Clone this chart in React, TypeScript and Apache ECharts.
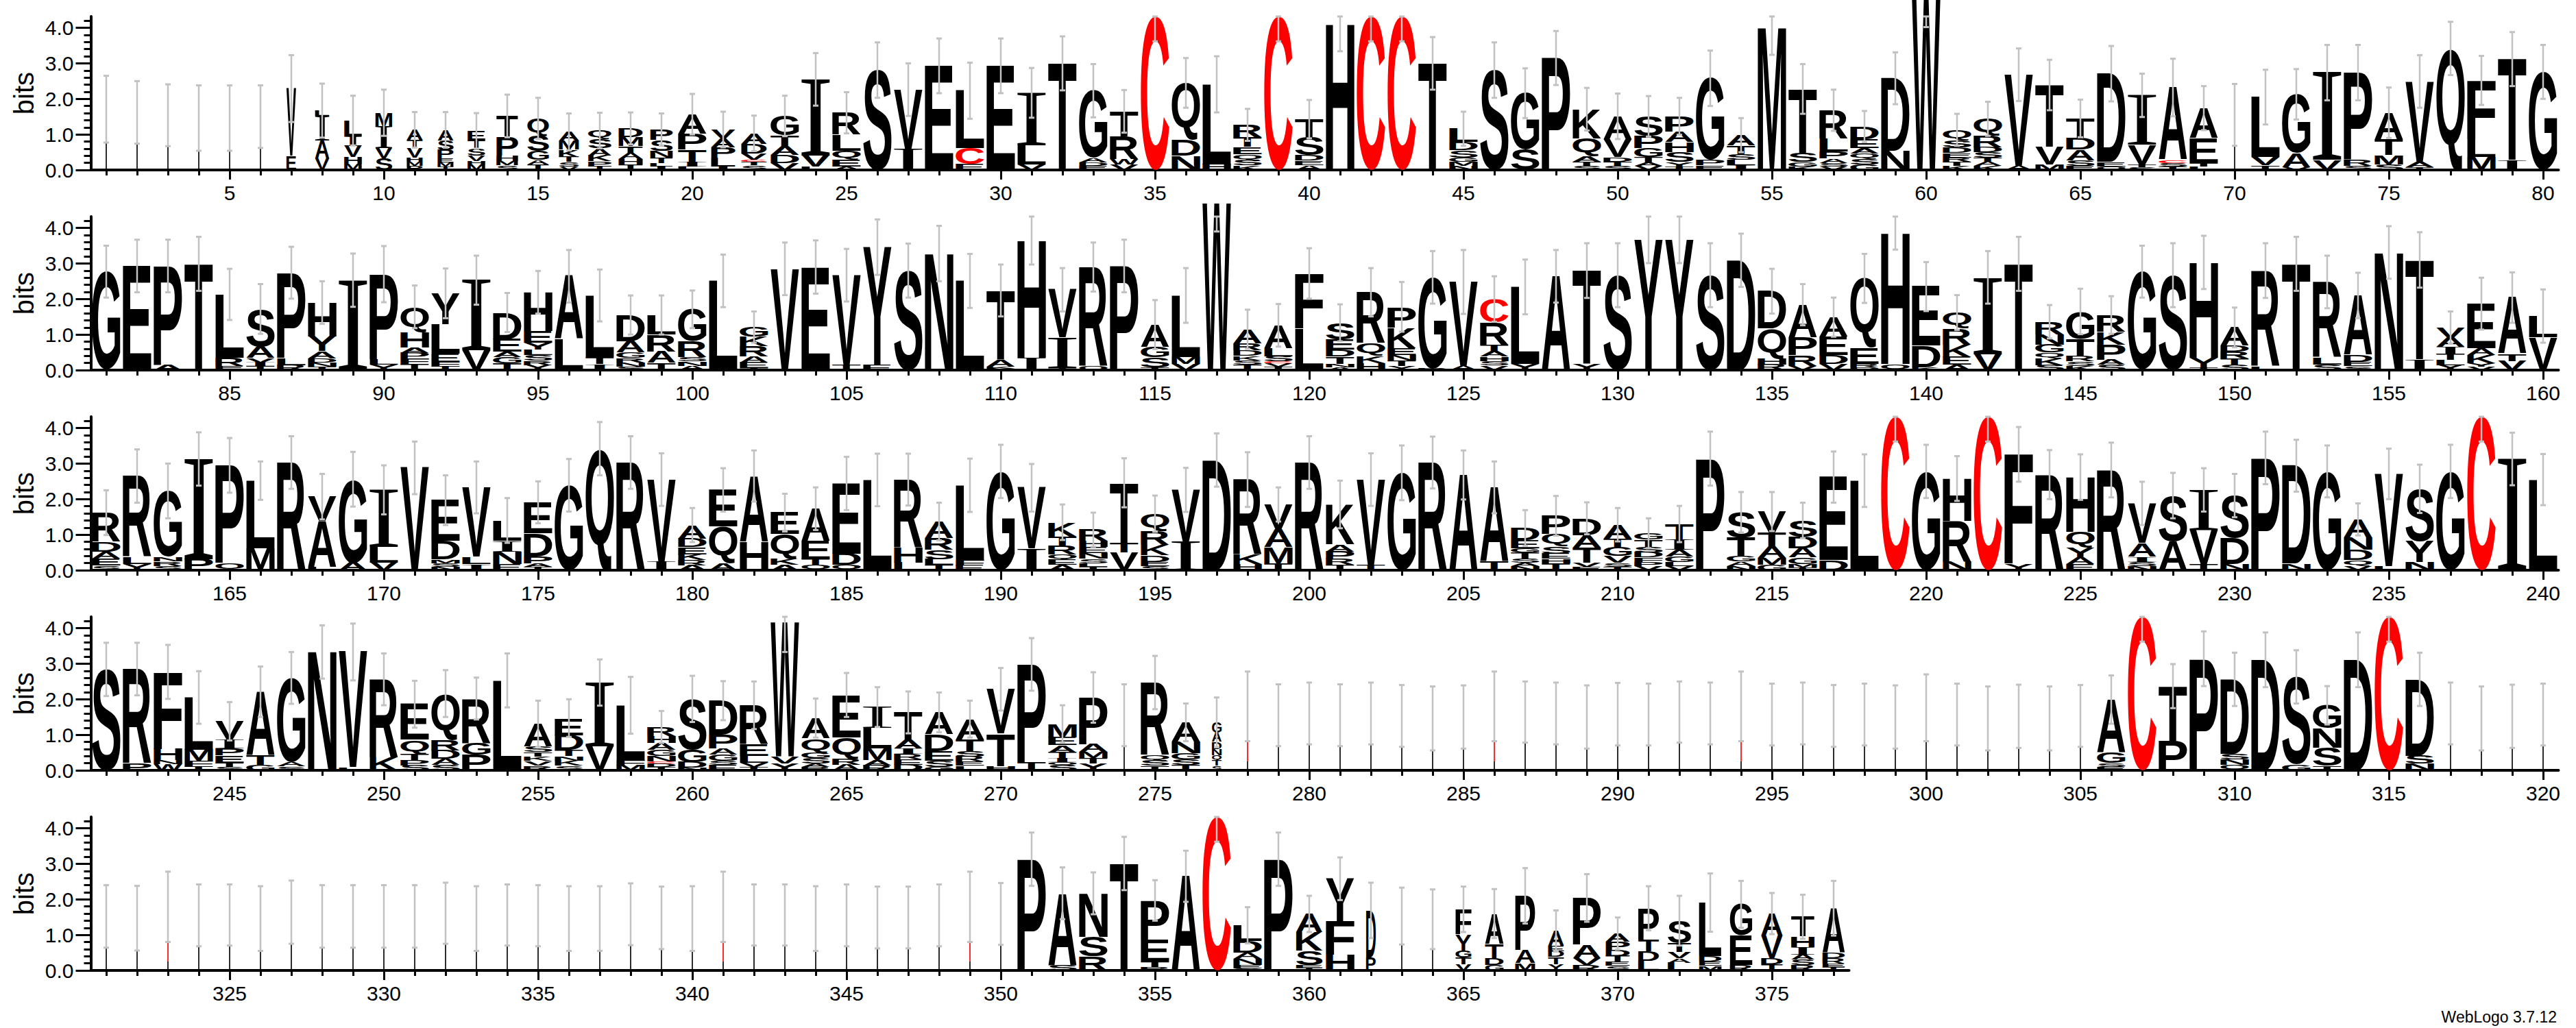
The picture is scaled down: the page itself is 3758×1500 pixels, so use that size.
import React, { useEffect, useRef } from "react";
import * as echarts from "echarts";

// ---------------- data ----------------
// Each entry = one position. Letter tokens list the stack from top to bottom with their height in bits.
// "w" = relative stack width (fraction of non-gap sequences), "e" = error-bar half width (bits),
// "c" = error-bar centre when it differs from the stack height.
const ROW_START = [1, 81, 161, 241, 321];
const ROW_LEN = [80, 80, 80, 80, 57];
const Y_MAX = 4.32;
const Y_MAJOR = [0, 1, 2, 3, 4];
const Y_MINOR = [0.2, 0.4, 0.6, 0.8, 1.2, 1.4, 1.6, 1.8, 2.2, 2.4, 2.6, 2.8, 3.2, 3.4, 3.6, 3.8, 4.2];

const row1 = [
  "X1.71 w.04 e.94", "X1.62 w.04 e.88", "X1.54 w.04 e.87", "X1.46 w.04 e.92", "X1.46 w.04 e.92",
  "X1.5 w.04 e.88", "V1.9 E.39 w.34 e.94", "L.15 I.7 A.5 V.32 w.5 e.76", "L.45 I.26 V.32 H.19 M.17 w.62 e.7", "M.39 I.61 V.29 S.32 w.59 e.65",
  "A.29 T.23 V.26 H.12 M.12 P.11 w.56 e.5", "A.3 S.27 P.24 E.11 M.11 T.1 w.56 e.5", "E.25 T.25 S.2 V.15 H.1 M.15 w.62 e.5", "T.6 P.52 H.14 M.13 S.13 w.76 e.6", "Q.5 S.42 G.25 A.13 T.15 w.76 e.58",
  "A.25 M.25 K.2 T.15 S.12 V.1 w.7 e.52", "Q.25 S.25 A.2 K.17 P.12 T.12 w.82 e.5", "D.25 M.25 T.2 A.17 H.15 T.15 w.85 e.45", "P.3 S.3 N.2 T.15 L.1 I.09 w.79 e.45", "A.55 P.45 T.35 I.12 L.1 e.57",
  "V.25 A.25 P.3 L.25 I.09 w.85 e.5", "A.3 D.27 V.18 C.05 T.1 S.13 w.9 e.5", "G.55 T.3 A.25 D.22 V.2 e.57", "I2.14 V.32 L.09 e.74", "R.62 L.45 Q.25 E.2 A.09 e.58",
  "S2.81 e.78", "V1.68 I.58 e.74", "E2.93 e.77", "L1.62 C.45 E.16 e.79", "E2.93 e.77",
  "I1.47 L.55 V.15 e.7", "T3 e.76", "G1.9 A.12 D.1 E.11 e.75", "T.7 R.65 W.15 V.15 e.6", "C4.32 e.7",
  "Q1.6 D.45 N.4 e.7", "L2.25 H.16 e.79", "R.35 T.27 E.2 Q.17 S.15 K.13 e.45", "C4.32 e.7", "T.52 S.5 D.15 E.13 A.13 e.54",
  "H4.12 e.78", "C4.32 e.7", "C4.32 e.7", "T3 e.74", "L.38 D.23 S.2 G.12 M.12 N.11 e.48",
  "S2.81 e.78", "G1.59 S.57 e.7", "P3.15 e.76", "K.82 Q.5 A.15 T.12 S.12 e.6", "A.65 V.5 D.12 T.12 S.12 e.64",
  "S.55 P.35 G.25 T.15 A.1 V.11 e.57", "P.42 A.3 H.28 S.28 Y.13 T.1 e.52", "G2.3 P.15 E.13 e.78", "A.3 T.25 S.15 L.15 I.13 e.48", "M4.02 e.78",
  "T1.8 S.26 G.12 K.1 e.7", "R.8 L.36 P.2 A.12 S.1 V.1 e.58", "D.35 E.25 A.15 Q.17 S.15 G.15 e.44", "D2.04 N.54 e.73", "W4.8 e.78",
  "Q.3 S.2 D.15 E.13 R.12 T.12 K.11 e.45", "Q.47 R.33 D.14 S.15 T.12 A.12 K.11 e.48", "V2.56 A.12 e.74", "T1.74 V.5 M.15 e.71", "T.55 D.33 A.3 S.15 E.12 e.53",
  "D2.49 E.12 Q.1 e.78", "I1.39 V.55 T.08 S.08 e.61", "A2.04 C.08 S.1 T.1 e.81", "A.85 E.7 T.1 L.09 e.62", "X1.55 w.04 e.87",
  "L1.7 V.22 T.13 e.77", "G1.65 A.4 V.08 e.71", "I2.46 V.28 e.78", "P2.46 R.16 S.12 e.78", "A.75 T.45 M.25 S.16 e.71",
  "V2.26 A.15 T.08 e.74", "Q3.42 e.75", "F1.65 L.5 M.37 e.69", "T2.85 I.27 e.76", "G2.76 e.76",
];

const row2 = [
  "G2.77 e.73", "E2.93 e.74", "P2.78 A.15 e.74", "T2.99 e.76", "L1.78 R.23 E.12 e.72",
  "S1.05 A.33 V.12 I.1 T.12 e.7", "P2.4 L.2 R.14 e.73", "H.95 Y.42 A.2 D.12 N.11 T.1 e.6", "I2.53 e.75", "P2.4 L.15 Y.15 e.79",
  "Q.72 H.42 A.15 P.17 F.16 T.16 e.6", "Y.87 L.83 E.23 F.12 T.11 e.7", "I1.97 V.56 e.69", "D.75 E.36 A.15 G.17 T.19 e.55", "H1.1 E.32 Y.2 L.15 S.15 R.13 Y.14 e.6",
  "A1.78 L.86 e.74", "L1.73 T.2 I.17 e.73", "D.74 A.32 G.15 R.12 N.12 S.1 e.55", "L.55 R.48 A.32 T.2 e.55", "G.9 R.45 S.12 N.12 A.12 e.53",
  "L2.51 e.74", "G.27 K.27 R.29 A.16 E.16 T.06 e.44", "V2.85 e.74", "E2.9 e.75", "V2.53 T.14 e.74",
  "Y3.31 E.15 e.78", "S2.8 e.76", "N3.28 e.78", "L2.51 e.76", "T1.95 A.2 K.05 Y.04 e.73",
  "H3.3 I.35 e.68", "V1.35 I.85 T.06 e.61", "R2.79 Q.11 e.69", "P2.93 e.74", "A.63 G.3 S.27 T.08 e.69",
  "L1.73 M.2 V.17 e.77", "W4.7 e.8", "A.4 R.2 D.15 K.13 S.12 T.15 e.55", "A.64 L.23 S.14 C.05 V.1 T.1 e.6", "F1.55 L1.17 e.71",
  "S.46 E.29 D.2 T.2 N.1 A.08 e.52", "R1.44 Q.35 K.2 H.2 e.68", "P.58 K.58 E.2 N.15 T.15 Y.12 e.7", "G2.56 R.05 e.74", "V2.37 A.11 e.9",
  "C.67 R.63 T.17 A.15 H.13 S.12 V.13 e.64", "L2.17 Y.17 e.77", "A2.64 e.74", "T2.63 Y.17 e.77", "S2.67 e.9",
  "Y3.67 e.66", "Y3.67 e.66", "S2.67 e.9", "D3.09 e.75", "D1.05 Q.85 H.16 R.16 e.63",
  "A.92 P.5 R.3 V.12 e.58", "A.55 E.51 D.25 V.18 e.55", "Q1.95 E.45 R.1 D.08 e.69", "H3.7 Q.16 e.47", "E1.67 D.6 K.08 e.69",
  "Q.45 R.45 K.35 E.22 A.15 e.49", "I2.15 V.46 e.74", "T2.99 e.76", "R.35 N.29 G.22 Q.16 K.2 S.14 e.47", "G.77 T.48 R.15 S.13 K.12 e.64",
  "R.48 K.35 P.42 A.15 S.15 e.53", "G2.77 e.73", "S2.67 e.9", "H2.69 Y.26 T.08 e.75", "A.52 D.16 R.19 T.18 S.15 e.56",
  "R2.7 L.1 e.77", "T2.99 e.76", "R2.12 L.2 S.16 e.74", "A1.67 D.2 E.12 S.11 e.64", "N3.31 e.74",
  "T2.8 I.3 e.78", "V.29 A.26 I.2 T.17 L.14 Y.14 e.45", "E1.25 A.2 K.22 Y.1 V.1 e.73", "A1.58 T.2 V.26 e.71", "L.6 V.92 e.75",
];

const row3 = [
  "R.82 D.27 A.2 E.2 S.13 e.63", "R2.28 L.19 Y.18 e.75", "G1.86 N.13 R.12 S.12 e.77", "I2.82 P.31 e.75", "P2.75 Q.2 e.77",
  "L1.9 M.62 e.54", "R3.03 e.74", "V.68 A1.3 L.09 e.64", "G2.35 A.21 e.77", "I1.6 L.45 V.21 e.69",
  "V2.88 e.74", "E1.15 D.52 M.1 S.1 N.1 e.7", "V1.96 L.2 I.17 e.73", "L.57 I.3 N.35 E.18 e.63", "E.87 D.65 P.2 A.1 T.09 e.59",
  "G2.39 e.74", "Q3.42 e.75", "R3.03 e.74", "V2.3 I.25 e.74", "A.38 D.24 E.2 K.17 R.14 A.14 e.48",
  "E1.03 Q1.03 A.2 e.61", "A1.85 H.8 e.72", "E.61 Q.7 K.16 A.15 e.53", "A.91 E.51 T.16 Q.15 e.6", "E1.97 D.32 Q.15 e.75",
  "L2.54 e.74", "R1.92 H.42 L.21 e.73", "A.48 R.32 S.26 L.16 T.15 e.53", "L2.1 F.15 E.14 e.75", "G2.78 e.75",
  "V1.72 I.6 e.67", "K.4 T.25 R.25 Q.15 E.15 A.15 e.5", "R.32 H.17 E.17 N.15 S.13 L.1 T.1 e.48", "T1.7 T.26 V.5 e.69", "Q.47 R.4 K.3 D.18 E.12 S.12 e.51",
  "V1.45 I.81 e.62", "D3.1 e.75", "R2.12 K.26 H.17 e.77", "V.7 A.5 M.45 T.2 e.48", "R3.03 e.74",
  "K1.12 A.2 P.22 R.16 T.15 e.67", "V2.4 T.15 e.74", "G2.74 e.77", "R3.03 e.73", "A2.68 e.69",
  "A2.08 T.25 e.73", "D.34 E.23 G.13 T.16 S.12 A.1 N.11 e.5", "P.51 Q.35 S.2 E.15 H.12 T.2 e.56", "D.48 A.35 T.42 V.12 E.09 e.45", "A.4 T.22 G.26 V.19 S.11 T.1 e.47",
  "G.18 T.2 S.16 D.14 F.12 P.12 V.12 e.42", "T.42 I.3 A.2 G.15 L.12 V.11 e.51", "P3.14 e.76", "S.72 T.51 G.16 A.12 N.12 e.57", "V.58 T.4 A.32 M.2 G.15 e.55",
  "S.45 D.33 A.26 G.18 M.1 T.08 e.5", "E2.35 D.27 e.72", "L2.52 e.74", "C4.32 e.7", "G2.78 e.75",
  "H1.19 R1.15 N.24 e.63", "C4.32 e.7", "F3.08 Y.18 e.77", "R2.69 e.69", "H1.54 Q.45 Y.26 A.19 E.18 e.64",
  "R2.82 e.77", "V1.12 A.38 I.14 S.12 N.12 e.61", "S1.28 A.82 e.64", "I1.13 V.96 T.17 e.61", "S1.19 D.74 N.17 e.61",
  "P3.16 e.74", "D2.76 N.18 e.73", "G2.78 e.73", "A.5 N.35 D.3 Q.15 V.13 e.45", "V2.6 L.11 e.71",
  "S1.47 Y.6 N.22 e.68", "G2.78 e.75", "C4.32 e.7", "I3.13 e.74", "L2.55 e.72",
];

const row4 = [
  "S2.84 e.75", "R2.66 P.19 e.74", "F2.16 H.32 N.12 W.17 e.76", "L1.47 M.32 F.14 T.12 e.74", "V.51 I.25 P.2 E.2 T.12 S.1 e.54",
  "A1.8 T.26 G.15 e.71", "G2.37 A.12 S.11 e.73", "N3.33 e.75", "V3.25 L.08 e.8", "R2.2 K.36 e.73",
  "E1 Q.4 T.17 P.15 S.14 e.66", "Q1.3 R.3 D.24 A.17 S.15 e.66", "R1.25 G.33 P.44 e.59", "L2.53 e.76", "A.64 S.15 T.13 K.13 V.13 R.13 e.65",
  "E.48 D.42 T.17 N.13 K.14 S.13 e.53", "I1.78 V.69 e.65", "L1.54 F.15 M.14 e.8", "R.25 H.2 A.2 G.17 N.15 C.05 D.1 T.1 e.45", "S1.43 G.35 D.16 N.07 e.65",
  "D.95 P.4 A.17 G.17 S.12 E.15 e.55", "R1.09 E.33 L.2 V.11 T.1 e.67", "W3.78 V.2 Y.19 e.84", "A.57 Q.4 G.15 S.15 A.1 R.1 e.55", "E1.19 Q.61 R.16 A.16 e.62",
  "I.59 L.58 M.32 A.15 R.14 e.56", "T.77 A.25 I.15 R.15 E.15 D.16 e.59", "A.61 D.48 E.26 S.18 G.1 e.56", "A.58 T.32 S.15 R.14 E.12 L.13 e.52", "V1.25 T.9 H.13 e.6",
  "P2.76 T.22 e.74", "M.38 E.22 A.2 T.17 I.1 Q.1 S.14 e.52", "P1.31 A.22 M.17 T.15 Y.2 e.71", "X1.55 w.04 e.87", "R2.05 Q.15 S.14 T.13 e.75",
  "A.54 N.33 G.17 S.16 T.15 e.53", "G.29 A.26 D.2 N.18 Q.15 T.14 S.13 w.34 e.7", "C.55 X.25 w.04 c1.8 e.98", "X1.55 w.04 e.87", "X1.6 w.04 e.87",
  "X1.55 w.04 e.87", "X1.6 w.04 e.87", "X1.53 w.04 e.87", "X1.46 w.04 e.9", "X1.5 w.04 e.89",
  "C.55 X.25 w.04 c1.8 e.98", "X1.64 w.04 e.86", "X1.6 w.04 e.87", "X1.5 w.04 e.89", "X1.58 w.04 e.88",
  "X1.57 w.04 e.87", "X1.64 w.04 e.86", "X1.6 w.04 e.87", "C.55 X.25 w.04 c1.8 e.98", "X1.57 w.04 e.87",
  "X1.6 w.04 e.87", "X1.53 w.04 e.87", "X1.57 w.04 e.87", "X1.5 w.04 e.89", "X1.76 w.04 e.94",
  "X1.57 w.04 e.87", "X1.46 w.04 e.9", "X1.52 w.04 e.89", "X1.46 w.04 e.9", "X1.53 w.04 e.87",
  "A1.5 G.29 S.1 E.1 e.68", "C4.32 e.7", "T1.53 P.84 e.62", "P3.14 e.77", "D2.1 S.16 N.15 Q.15 e.75",
  "D3.11 e.77", "S2.47 G.16 e.75", "G.65 N.55 S.5 T.13 e.54", "D3.11 e.77", "C4.32 e.7",
  "D2.15 S.22 N.19 e.75", "X1.6 w.04 e.87", "X1.46 w.04 e.9", "X1.52 w.04 e.89", "X1.57 w.04 e.87",
];

const row5 = [
  "X1.52 w.04 e.88", "X1.47 w.04 e.91", "C.55 X.25 w.04 c1.79 e.99", "X1.55 w.04 e.87", "X1.56 w.04 e.86",
  "X1.46 w.04 e.91", "X1.64 w.04 e.89", "X1.52 w.04 e.88", "X1.52 w.04 e.88", "X1.52 w.04 e.88",
  "X1.52 w.04 e.88", "X1.61 w.04 e.86", "X1.46 w.04 e.91", "X1.56 w.04 e.86", "X1.54 w.04 e.86",
  "X1.46 w.04 e.91", "X1.46 w.04 e.91", "X1.58 w.04 e.87", "X1.48 w.04 e.88", "X1.46 w.04 e.91",
  "C.55 X.25 w.04 c1.79 e.99", "X1.56 w.04 e.86", "X1.56 w.04 e.86", "X1.46 w.04 e.91", "X1.55 w.04 e.87",
  "X1.49 w.04 e.87", "X1.49 w.04 e.87", "X1.55 w.04 e.87", "C.55 X.25 w.04 c1.79 e.99", "X1.59 w.04 e.87",
  "P3.13 e.75", "A2.02 S.15 e.73", "N1.22 S.55 R.4 e.59", "T3.01 e.75", "P1.1 E.62 T.15 R.1 e.57",
  "A2.65 e.72", "C4.32 e.7", "L.45 D.32 A.17 N.17 E.1 S.06 e.51", "P3.13 e.75", "A.51 K.52 S.4 E.08 T.08 w.93 e.51",
  "Y1.2 F.94 H.44 e.6", "D1.31 P.38 w.34 e.78", "X1.53 w.04 e.8", "X1.44 w.04 e.84", "F.7 Y.45 G.2 T.2 V.17 w.56 e.64",
  "A.85 T.4 D.2 G.15 w.65 e.69", "P1.54 A.36 M.2 w.7 e.78", "A.42 E.15 D.16 T.2 Y.18 w.56 e.58", "P1.31 A.38 V.2 R.15 w.98 e.67", "A.23 P.23 D.17 T.16 E.12 S.13 w.85 e.45",
  "P.88 T.33 D.26 L.28 w.73 e.62", "S.64 T.24 V.18 A.13 L.21 w.82 e.7", "L1.5 D.15 E.13 M.13 w.79 e.82", "G.88 E.83 R.15 w.79 e.66", "A.62 V.64 D.16 T.18 w.76 e.58",
  "T.56 H.3 I.2 A.15 S.15 R.15 w.82 e.62", "A1.25 D.15 R.15 E.1 T.1 w.79 e.77",
];

const ROWS = [row1, row2, row3, row4, row5];

// ---------------- styles / layout ----------------
const SANS = "Liberation Sans";
const SERIF = "Liberation Serif";
const FS = 200;
const BLACK = "#000000";
const RED = "#ff0000";
const GREY = "#c2c2c2";
const GRID_LEFT = 132.5;
const COL_W = 45;
const GRID_H = 224;
const BASE0 = 248;
const ROW_GAP = 292;
const FILL = 0.46;

type Glyph = { pos: number; ch: string; lo: number; hi: number; w: number };

function parseRow(entries: string[], start: number) {
  const glyphs: Glyph[] = [];
  const bars: number[][] = [];
  entries.forEach((s, i) => {
    const pos = start + i;
    let w = 1;
    let e = 0;
    let c: number | null = null;
    const stack: [string, number][] = [];
    for (const tok of s.trim().split(/\s+/)) {
      const k = tok[0];
      const v = parseFloat(tok.slice(1));
      if (k === "w") w = v;
      else if (k === "e") e = v;
      else if (k === "c") c = v;
      else stack.push([k, v]);
    }
    let y = 0;
    for (let j = stack.length - 1; j >= 0; j--) {
      glyphs.push({ pos, ch: stack[j][0], lo: y, hi: y + stack[j][1], w });
      y += stack[j][1];
    }
    const mid = c == null ? y : c;
    bars.push([pos, Math.max(0, mid - e), Math.min(Y_MAX, mid + e)]);
  });
  return { glyphs, bars };
}

function measureGlyphs() {
  const cv = document.createElement("canvas");
  const ctx = cv.getContext("2d") as CanvasRenderingContext2D;
  const out: Record<string, any> = {};
  for (const ch of "ACDEFGHIKLMNPQRSTVWY") {
    const fam = ch === "I" ? SERIF : SANS;
    const wt = ch === "I" ? "normal" : "bold";
    ctx.font = `${wt} ${FS}px "${fam}"`;
    const m = ctx.measureText(ch);
    out[ch] = {
      fam,
      wt,
      l: -m.actualBoundingBoxLeft,
      r: m.actualBoundingBoxRight,
      a: m.actualBoundingBoxAscent,
      d: m.actualBoundingBoxDescent,
      c: (m.fontBoundingBoxAscent - m.fontBoundingBoxDescent) / 2,
    };
  }
  return out;
}

export default function App() {
  const ref = useRef<HTMLDivElement>(null);

  useEffect(() => {
    if (!ref.current) return;
    const chart = echarts.init(ref.current, undefined, { renderer: "svg" });
    const metrics = measureGlyphs();

    const grids: any[] = [];
    const xAxes: any[] = [];
    const yAxes: any[] = [];
    const series: any[] = [];
    const tickStyle = { color: BLACK, width: 3 };
    const labelStyle = { fontFamily: SANS, fontSize: 30, color: BLACK };

    ROWS.forEach((entries, r) => {
      const start = ROW_START[r];
      const len = ROW_LEN[r];
      const { glyphs, bars } = parseRow(entries, start);
      const positions = entries.map((_, i) => start + i);
      const fives = positions.filter((p) => p % 5 === 0);
      const base = BASE0 + ROW_GAP * r;

      grids.push({ left: GRID_LEFT, top: base - GRID_H, width: len * COL_W, height: GRID_H });

      xAxes.push({
        gridIndex: r, type: "value", position: "bottom", min: start - 0.5, max: start + len - 0.5,
        axisLine: { show: true, onZero: false, lineStyle: { color: BLACK, width: 4 } },
        axisTick: { show: true, customValues: positions, length: 8, lineStyle: tickStyle },
        axisLabel: { show: false }, splitLine: { show: false },
      });
      xAxes.push({
        gridIndex: r, type: "value", position: "bottom", min: start - 0.5, max: start + len - 0.5,
        axisLine: { show: false, onZero: false },
        axisTick: { show: true, customValues: fives, length: 14, lineStyle: tickStyle },
        axisLabel: { show: true, customValues: fives, margin: 18, ...labelStyle },
        splitLine: { show: false },
      });
      yAxes.push({
        gridIndex: r, type: "value", position: "left", min: 0, max: Y_MAX,
        axisLine: { show: true, lineStyle: { color: BLACK, width: 4 } },
        axisTick: { show: true, customValues: Y_MINOR, length: 10, lineStyle: tickStyle },
        axisLabel: { show: false }, splitLine: { show: false },
      });
      yAxes.push({
        gridIndex: r, type: "value", position: "left", min: 0, max: Y_MAX,
        axisLine: { show: false },
        axisTick: { show: true, customValues: Y_MAJOR, length: 22, lineStyle: tickStyle },
        axisLabel: { show: true, customValues: Y_MAJOR, margin: 25, formatter: (v: number) => v.toFixed(1), ...labelStyle },
        splitLine: { show: false },
        name: "bits", nameLocation: "middle", nameRotate: 90, nameGap: 78,
        nameTextStyle: { fontFamily: SANS, fontSize: 40, color: BLACK },
      });

      series.push({
        type: "custom", xAxisIndex: 2 * r, yAxisIndex: 2 * r, clip: false, progressive: 0, z: 2,
        data: glyphs.map((g) => [g.pos, g.lo, g.hi]),
        encode: { x: 0, y: [1, 2] },
        renderItem: (params: any, api: any) => {
          const g = glyphs[params.dataIndex];
          const half = FILL * g.w;
          const p0 = api.coord([g.pos - half, g.hi]);
          const p1 = api.coord([g.pos + half, g.lo]);
          const bw = p1[0] - p0[0];
          const bh = p1[1] - p0[1];
          if (bh < 0.4) return null;
          const fill = g.ch === "C" ? RED : BLACK;
          const m = metrics[g.ch];
          if (!m || bw < 5) {
            return { type: "rect", shape: { x: p0[0], y: p0[1], width: bw, height: bh }, style: { fill } };
          }
          const inkW = m.r - m.l;
          const inkH = m.a + m.d;
          const ox = m.l;
          const oy = m.c - m.a;
          return {
            type: "text",
            x: p0[0] - ox, y: p0[1] - oy, originX: ox, originY: oy,
            scaleX: bw / inkW, scaleY: bh / inkH,
            style: {
              text: g.ch, x: 0, y: 0, fill, fontSize: FS, fontFamily: m.fam, fontWeight: m.wt,
              align: "left", verticalAlign: "middle",
            },
          };
        },
      });

      series.push({
        type: "custom", xAxisIndex: 2 * r, yAxisIndex: 2 * r, clip: false, progressive: 0, z: 3,
        data: bars.map((b) => [b[0], b[1], b[2]]),
        encode: { x: 0, y: [1, 2] },
        renderItem: (params: any, api: any) => {
          const b = bars[params.dataIndex];
          const top = api.coord([b[0], b[2]]);
          const bot = api.coord([b[0], b[1]]);
          const x = top[0];
          return {
            type: "group",
            children: [
              { type: "line", shape: { x1: x, y1: top[1], x2: x, y2: bot[1] }, style: { stroke: GREY, lineWidth: 2.5 } },
              { type: "line", shape: { x1: x - 4, y1: top[1], x2: x + 4, y2: top[1] }, style: { stroke: GREY, lineWidth: 3 } },
              { type: "line", shape: { x1: x - 4, y1: bot[1], x2: x + 4, y2: bot[1] }, style: { stroke: GREY, lineWidth: 3 } },
            ],
          };
        },
      });
    });

    chart.setOption({
      animation: false,
      backgroundColor: "#ffffff",
      textStyle: { fontFamily: SANS },
      grid: grids,
      xAxis: xAxes,
      yAxis: yAxes,
      series,
      graphic: [
        {
          type: "text", x: 3730, y: 1484,
          style: { text: "WebLogo 3.7.12", fontFamily: SANS, fontSize: 23, fill: BLACK, align: "right", verticalAlign: "middle" },
        },
      ],
    });

    return () => chart.dispose();
  }, []);

  return (
    <div
      ref={ref}
      style={{ position: "fixed", left: 0, top: 0, width: 3758, height: 1500, background: "#ffffff" }}
    />
  );
}
